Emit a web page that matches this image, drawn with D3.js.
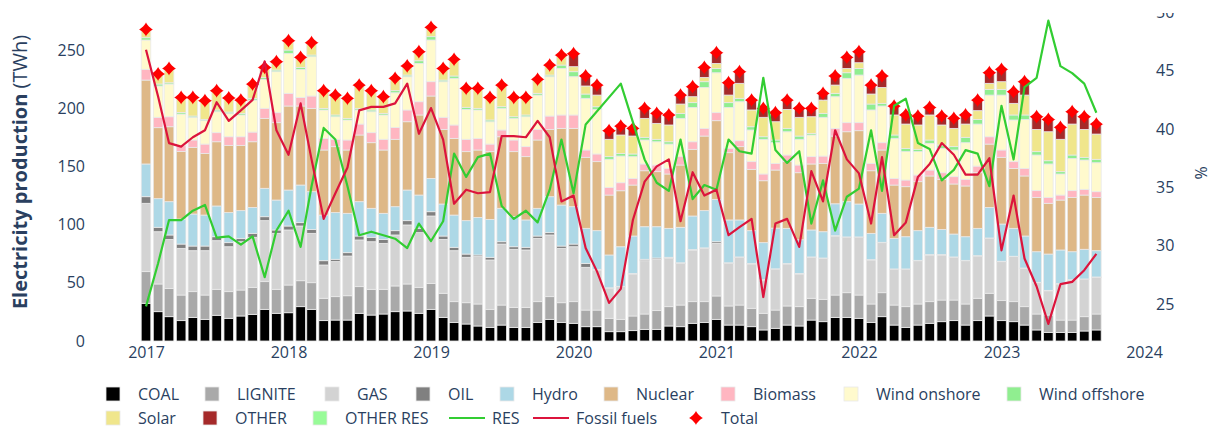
<!DOCTYPE html>
<html><head><meta charset="utf-8">
<script src="https://cdn.jsdelivr.net/npm/d3@7"></script>
<style>
body{margin:0;background:#fff;}
svg{display:block;font-family:"Open Sans",sans-serif;}
</style>
</head><body>
<svg id="chart" width="1214" height="429"></svg>
<script>
const months = [
"2017-01","2017-02","2017-03","2017-04","2017-05","2017-06","2017-07","2017-08","2017-09","2017-10","2017-11","2017-12",
"2018-01","2018-02","2018-03","2018-04","2018-05","2018-06","2018-07","2018-08","2018-09","2018-10","2018-11","2018-12",
"2019-01","2019-02","2019-03","2019-04","2019-05","2019-06","2019-07","2019-08","2019-09","2019-10","2019-11","2019-12",
"2020-01","2020-02","2020-03","2020-04","2020-05","2020-06","2020-07","2020-08","2020-09","2020-10","2020-11","2020-12",
"2021-01","2021-02","2021-03","2021-04","2021-05","2021-06","2021-07","2021-08","2021-09","2021-10","2021-11","2021-12",
"2022-01","2022-02","2022-03","2022-04","2022-05","2022-06","2022-07","2022-08","2022-09","2022-10","2022-11","2022-12",
"2023-01","2023-02","2023-03","2023-04","2023-05","2023-06","2023-07","2023-08","2023-09"];

const COAL = [32.4,25.2,20.9,17.5,20.3,18.6,22.1,19.5,21.5,22.9,27.2,23.8,
24.3,29.5,27.2,17.5,18.0,18.0,23.8,22.3,23.2,25.2,25.8,23.8,
27.2,20.3,15.8,14.6,12.9,11.7,13.7,11.7,11.7,15.8,18.6,15.8,
15.2,12.3,12.3,8.0,8.0,8.9,10.0,10.0,12.9,12.3,15.2,15.8,
18.6,13.7,13.7,12.3,9.5,10.9,13.7,12.9,18.0,16.6,20.3,20.3,
19.5,15.8,20.9,13.7,11.7,13.7,15.2,16.6,17.5,13.7,17.5,21.5,
17.5,16.6,13.7,9.5,7.4,7.4,7.4,8.6,9.5];
const LIGNITE = [27.2,23.8,24.3,22.0,22.1,20.9,22.3,22.9,22.3,23.2,23.8,20.6,
23.8,22.3,22.9,19.2,20.1,20.9,22.9,22.1,21.2,22.1,23.2,22.3,
22.3,20.7,18.0,18.3,18.9,15.5,17.2,17.2,17.2,18.0,19.5,17.1,
18.6,14.3,14.3,11.5,10.6,12.6,13.2,16.1,16.6,18.6,18.6,18.0,
20.1,16.4,17.2,15.8,14.3,15.7,16.4,16.6,18.7,19.2,19.2,21.2,
20.0,16.0,20.6,17.2,17.8,18.1,18.6,18.6,17.7,18.1,19.2,19.5,
17.2,17.2,15.8,13.7,14.9,10.6,10.6,12.3,13.7];
const GAS = [58.7,44.9,42.1,40.1,35.2,38.1,41.8,38.6,41.5,43.0,52.4,48.1,
47.3,47.0,42.4,28.6,30.1,34.1,40.1,40.9,39.5,43.8,50.7,47.0,
57.9,46.3,43.8,39.0,40.7,42.4,52.4,49.9,49.3,54.4,53.0,46.7,
47.2,36.7,34.4,25.7,28.1,36.1,45.8,44.1,41.5,35.8,44.4,45.8,
45.2,36.6,41.0,38.1,28.6,35.0,36.1,28.1,35.2,35.2,50.7,47.6,
49.6,37.8,43.0,30.7,32.1,37.2,40.1,38.7,36.7,37.2,36.3,47.2,
33.5,38.7,32.9,26.9,20.9,31.0,34.4,32.1,31.5];
const OIL = [5.7,3.8,3.8,3.7,4.0,4.0,3.4,3.5,2.9,3.4,3.4,2.9,
3.4,2.9,3.4,3.7,2.0,2.9,3.4,3.8,3.4,3.7,3.7,3.7,
3.7,2.9,2.9,2.8,1.4,2.3,2.0,2.2,2.3,2.0,2.0,2.0,
2.3,3.4,0.6,0.5,0.3,0.4,1.2,1.1,0.9,0.5,0.3,0.4,
1.4,0.5,0.3,0.3,0.3,0.4,0.3,0.4,0.3,0.3,0.3,0.3,
0.3,0.3,0.3,0.3,0.3,0.3,0.3,0.3,0.3,0.3,0.3,0.3,
0.3,0.3,0.3,0.3,0.3,0.3,0.3,0.3,0.3];
const HYDRO = [28.1,24.6,28.6,21.5,27.5,26.6,26.4,25.8,23.8,22.3,24.4,25.7,
30.9,32.3,32.4,39.2,40.1,33.8,29.5,24.9,22.4,20.6,26.3,28.6,
28.6,27.5,27.7,28.7,32.3,32.6,28.7,25.8,23.5,23.8,30.9,35.2,
32.1,30.1,33.2,28.2,34.0,32.2,28.0,26.9,24.9,30.5,28.9,32.0,
36.4,36.8,31.8,28.3,31.8,35.0,30.3,29.0,23.2,22.6,27.4,30.3,
28.3,22.6,24.9,26.3,27.7,25.5,23.5,21.7,19.7,20.3,23.5,26.3,
32.0,24.0,27.5,26.3,31.2,28.9,24.0,25.5,22.6];
const NUCLEAR = [72.1,61.0,64.4,58.0,57.3,53.0,55.2,57.8,56.1,56.4,60.1,66.5,
72.2,67.9,71.6,55.9,56.7,54.4,57.3,56.4,54.4,57.9,58.7,68.8,
70.8,64.1,65.9,59.3,57.9,58.2,61.5,55.9,54.4,58.7,57.8,65.9,
67.3,61.0,59.3,51.5,48.1,43.8,48.1,47.3,46.7,53.5,57.3,64.1,
67.6,57.8,63.0,52.7,53.2,49.9,57.3,57.6,56.7,58.7,58.2,60.1,
63.0,53.8,54.4,45.8,43.0,42.1,44.1,43.0,43.0,43.6,47.8,54.4,
57.3,51.5,51.6,46.7,43.6,42.9,46.7,46.6,45.8];
const BIOMASS = [9.2,8.9,8.6,5.0,6.3,8.0,7.8,7.4,7.4,8.3,8.6,8.6,
10.9,7.4,10.6,10.0,6.3,8.6,9.4,8.6,9.2,10.2,10.1,11.4,
12.3,10.4,11.5,10.6,10.0,6.5,5.8,10.0,8.6,9.1,11.5,11.5,
11.5,6.3,6.6,6.6,6.9,5.7,5.8,5.7,4.8,7.2,6.5,6.6,
6.9,3.7,5.1,6.6,5.8,5.7,5.7,6.6,6.3,6.3,6.6,7.8,
6.9,6.3,6.3,5.7,5.7,5.7,5.1,5.7,6.3,5.7,5.7,6.3,
6.3,5.8,6.5,5.8,5.1,4.3,5.8,4.9,4.9];
const WIND_ON = [25.2,26.9,28.1,27.2,19.5,20.1,18.0,19.8,18.7,27.5,24.9,35.2,
34.3,24.1,33.8,24.4,19.4,17.2,12.1,18.0,20.9,29.8,28.6,32.9,
35.8,30.6,40.1,25.7,24.4,19.2,18.6,18.6,25.7,29.5,33.8,40.0,
32.9,44.4,38.3,24.1,22.9,18.7,20.6,20.0,20.9,32.9,29.5,35.2,
34.3,35.2,33.5,27.2,29.8,17.8,20.0,22.1,18.6,33.3,27.2,38.1,
40.9,45.9,31.5,34.4,24.4,20.1,22.9,20.9,22.9,31.5,36.1,35.8,
47.2,35.8,42.1,30.6,28.7,18.1,27.7,25.2,24.9];
const WIND_OFF = [2.0,1.7,1.1,1.4,1.1,1.1,1.5,1.4,1.4,1.5,1.7,1.4,
2.9,1.7,1.4,1.4,1.5,1.4,1.4,1.5,1.4,1.8,1.4,2.3,
2.9,1.4,2.0,1.8,1.4,1.5,1.4,1.4,1.5,1.5,1.4,2.9,
4.3,3.7,2.3,2.3,2.3,2.3,2.3,2.1,2.0,4.3,4.1,4.9,
3.7,4.1,2.9,2.8,2.2,2.3,2.9,2.8,1.4,3.4,2.9,4.8,
5.7,5.1,2.3,2.9,2.8,2.0,2.9,2.9,2.9,4.6,4.0,4.9,
4.9,4.3,3.8,2.9,2.8,2.0,2.9,2.3,2.9];
const SOLAR = [7.1,8.6,12.3,12.9,16.0,16.1,16.6,12.1,11.4,12.3,8.6,7.2,
8.0,8.6,10.6,15.2,17.1,17.2,20.0,16.6,14.3,10.6,7.8,7.8,
8.0,10.0,14.3,16.3,17.2,19.4,18.6,16.6,15.1,12.0,8.6,8.6,
4.3,6.9,10.0,14.9,15.8,15.4,16.3,13.7,14.4,8.0,5.1,3.7,
4.3,6.5,12.9,14.4,16.7,15.7,16.3,16.1,14.3,11.4,7.1,3.7,
4.9,8.6,13.7,17.2,20.9,20.9,21.5,17.2,15.7,11.4,7.5,5.2,
6.6,10.0,17.1,19.1,24.9,27.8,26.6,24.0,21.7];
const OTHER = [0,0,0,0,0,0,0,0,0,0,0,0,
0,0,0,0,0,0,0,0,0,0,0,0,
0,0,0,0,0,0,0,0,0,0,0,0,
11.1,8.6,8.6,7.4,7.7,6.6,8.6,8.6,8.6,7.7,8.6,8.6,
9.2,10.6,10.0,8.5,7.7,7.8,8.0,7.7,7.2,5.8,7.8,9.5,
9.5,7.7,9.8,7.7,7.8,7.7,6.5,7.7,8.6,7.8,9.1,9.1,
10.6,10.0,11.5,10.9,10.6,10.3,10.6,10.9,8.6];
const OTHER_RES = [0,0,0,0,0,0,0,0,0,0,0,0,
0,0,0,0,0,0,0,0,0,0,0,0,
0,0,0,0,0,0,0,0,0,0,0,0,
0,0,0,0,0,0,0,0,0,0,0,0,
0,0,0,0,0,0,0,0,0,0,0,0,
0,0,0,0,0,0,0,0,0,0,0,0,
0,0,0,0,0,0,0,0,0];
const TOTAL = [267.7,229.4,234.2,209.3,209.3,206.5,215.1,208.8,207.0,220.8,235.1,240.0,
258.0,243.7,256.3,215.1,211.3,208.5,219.9,215.1,209.9,225.7,236.3,248.6,
269.5,234.2,242.0,217.1,217.1,209.3,219.9,209.3,209.3,224.8,237.1,245.7,
246.8,227.7,219.9,180.7,184.7,182.7,199.9,195.6,194.2,211.3,218.5,235.1,
247.7,221.9,231.4,207.0,199.9,196.2,207.0,199.9,199.9,212.8,227.7,243.7,
248.6,219.9,227.7,201.9,194.2,193.3,200.7,193.3,191.3,194.2,207.0,230.5,
233.4,214.2,222.8,192.7,190.4,183.6,197.0,192.7,186.4];
const RES_PCT = [24.8,28.5,32.2,32.2,33.0,33.5,30.7,30.8,30.1,30.8,27.3,31.3,
33.0,29.9,35.1,40.1,39.1,35.1,30.9,31.2,30.9,30.6,29.8,31.9,
30.4,32.1,37.9,35.9,37.6,37.9,33.4,32.3,33.0,32.0,34.8,39.1,
34.5,40.4,null,null,43.9,40.6,37.4,35.4,34.7,39.1,34.0,35.2,
34.8,39.1,38.1,37.9,44.4,38.2,37.1,38.1,31.9,35.6,31.3,34.2,
34.9,39.9,34.7,42.0,42.6,38.8,38.3,35.6,36.5,38.2,37.9,35.1,
42.0,37.4,43.6,44.4,49.3,45.4,44.8,43.9,41.4];
const FOSSIL_PCT = [46.8,42.8,38.8,38.5,39.3,39.9,42.3,40.7,41.6,42.5,45.8,39.9,
37.8,42.2,37.4,32.3,34.5,36.7,41.6,41.9,41.9,42.2,43.9,39.6,
41.8,39.1,33.6,34.8,34.5,34.6,39.4,39.4,39.3,40.7,39.3,33.8,
34.3,29.8,27.8,25.1,26.3,32.2,35.5,36.8,37.4,32.1,36.3,34.3,
34.8,30.9,31.6,32.3,25.6,31.9,32.3,29.9,36.4,33.8,39.9,37.4,
36.2,31.9,37.6,30.9,32.0,35.9,37.0,38.8,37.8,36.1,36.1,37.5,
29.6,34.3,28.9,26.5,23.3,26.7,26.9,27.9,29.3];

const leftTicks = [0,50,100,150,200,250];
const rightTicks = [25,30,35,40,45,50];
const yearTicks = ["2017","2018","2019","2020","2021","2022","2023","2024"];

const seriesNames = ["COAL","LIGNITE","GAS","OIL","Hydro","Nuclear","Biomass","Wind onshore","Wind offshore","Solar","OTHER","OTHER RES"];
const seriesValues = [COAL,LIGNITE,GAS,OIL,HYDRO,NUCLEAR,BIOMASS,WIND_ON,WIND_OFF,SOLAR,OTHER,OTHER_RES];
const seriesColors = ["#000000","#a9a9a9","#d3d3d3","#808080","#add8e6","#deb887","#ffb6c1","#fffacd","#90ee90","#f0e68c","#a52a2a","#98fb98"];

// ---------- drawing ----------
const TXT = "#2a3f5f";
const svg = d3.select("#chart");
const parseM = d3.timeParse("%Y-%m");
const parseY = d3.timeParse("%Y");
const dates = months.map(parseM);

const x = d3.scaleTime().domain([parseY("2017"), parseY("2024")]).range([146, 1144]);
const yL = d3.scaleLinear().domain([0, 284.4]).range([341, 10]);
const yR = d3.scaleLinear().domain([21.83, 50.21]).range([341, 10]);

const table = dates.map((d, i) => {
  const r = {date: d};
  seriesNames.forEach((k, j) => r[k] = seriesValues[j][i]);
  return r;
});
const stacked = d3.stack().keys(seriesNames)(table);
const bw = 9.6;

const gBars = svg.append("g");
stacked.forEach((layer, j) => {
  gBars.append("g").attr("fill", seriesColors[j])
    .selectAll("rect").data(layer.filter(d => d[1] - d[0] > 0)).join("rect")
    .attr("x", d => x(d.data.date) - bw / 2)
    .attr("width", bw)
    .attr("y", d => yL(d[1]))
    .attr("height", d => yL(d[0]) - yL(d[1]))
    .attr("stroke", "#e9e9e9").attr("stroke-width", 0.8);
});

function starDiamond(r) {
  const rc = r * 1.05, rd = r * 0.8;
  return `M-${rc},0C-${rd},0 0,${rd} 0,${rc}C0,${rd} ${rd},0 ${rc},0C${rd},0 0,-${rd} 0,-${rc}C0,-${rd} -${rd},0 -${rc},0Z`;
}
svg.append("g").selectAll("path").data(dates).join("path")
  .attr("d", starDiamond(6.8))
  .attr("transform", (d, i) => `translate(${x(d)},${yL(TOTAL[i])})`)
  .attr("fill", "#ff0000");

const line = d3.line().x(d => x(d.date)).y(d => yR(d.v));
const resPts = dates.map((d, i) => ({date: d, v: RES_PCT[i]})).filter(d => d.v != null);
const fosPts = dates.map((d, i) => ({date: d, v: FOSSIL_PCT[i]})).filter(d => d.v != null);
svg.append("path").attr("d", line(resPts)).attr("fill", "none").attr("stroke", "#32cd32").attr("stroke-width", 2.2).attr("stroke-linejoin", "round");
svg.append("path").attr("d", line(fosPts)).attr("fill", "none").attr("stroke", "#dc143c").attr("stroke-width", 2.2).attr("stroke-linejoin", "round");

// axes
svg.append("clipPath").attr("id", "rclip").append("rect")
  .attr("x", -20).attr("y", 13).attr("width", 80).attr("height", 345);
const axL = svg.append("g").attr("transform", "translate(88,0)")
  .call(d3.axisLeft(yL).tickValues(leftTicks).tickSize(0).tickPadding(3));
const axR = svg.append("g").attr("transform", "translate(1153,0)").attr("clip-path", "url(#rclip)")
  .call(d3.axisRight(yR).tickValues(rightTicks).tickSize(0).tickPadding(3));
const axX = svg.append("g").attr("transform", "translate(0,341)")
  .call(d3.axisBottom(x).tickValues(yearTicks.map(parseY)).tickFormat(d3.timeFormat("%Y")).tickSize(0).tickPadding(6));
[axL, axR, axX].forEach(a => {
  a.select(".domain").remove();
  a.selectAll("text").attr("font-size", 16).attr("fill", TXT).attr("font-family", '"Open Sans",sans-serif');
});

const t = svg.append("text").attr("transform", "translate(27,172) rotate(-90)")
  .attr("text-anchor", "middle").attr("font-size", 20).attr("fill", TXT);
t.append("tspan").attr("font-weight", "bold").text("Electricity production");
t.append("tspan").text(" (TWh)");
svg.append("text").attr("transform", "translate(1207,173) rotate(-90)")
  .attr("text-anchor", "middle").attr("font-size", 16).attr("fill", TXT).text("%");

// legend
const legendPos = {
  "COAL": [113, 394], "LIGNITE": [212, 394], "GAS": [332, 394], "OIL": [423, 394], "Hydro": [507, 394],
  "Nuclear": [611, 394], "Biomass": [728, 394], "Wind onshore": [851, 394], "Wind offshore": [1014, 394],
  "Solar": [113, 418], "OTHER": [210, 418], "OTHER RES": [320, 418],
  "RES": [467, 418], "Fossil fuels": [551, 418], "Total": [696, 418]
};
const lg = svg.append("g");
function legendText(name) {
  const p = legendPos[name];
  lg.append("text").attr("x", p[0] + 25).attr("y", p[1]).attr("dy", "0.35em")
    .attr("font-size", 16).attr("fill", TXT).text(name);
}
seriesNames.forEach((name, j) => {
  const p = legendPos[name];
  lg.append("rect").attr("x", p[0] - 7).attr("y", p[1] - 7).attr("width", 14).attr("height", 14)
    .attr("fill", seriesColors[j]).attr("stroke", "#e9e9e9").attr("stroke-width", 0.8);
  legendText(name);
});
[["RES", "#32cd32"], ["Fossil fuels", "#dc143c"]].forEach(([name, c]) => {
  const p = legendPos[name];
  lg.append("line").attr("x1", p[0] - 18).attr("x2", p[0] + 18).attr("y1", p[1]).attr("y2", p[1])
    .attr("stroke", c).attr("stroke-width", 2.2);
  legendText(name);
});
lg.append("path").attr("d", starDiamond(6.8)).attr("transform", `translate(${legendPos.Total[0]},${legendPos.Total[1]})`).attr("fill", "#ff0000");
legendText("Total");
</script>
</body></html>
